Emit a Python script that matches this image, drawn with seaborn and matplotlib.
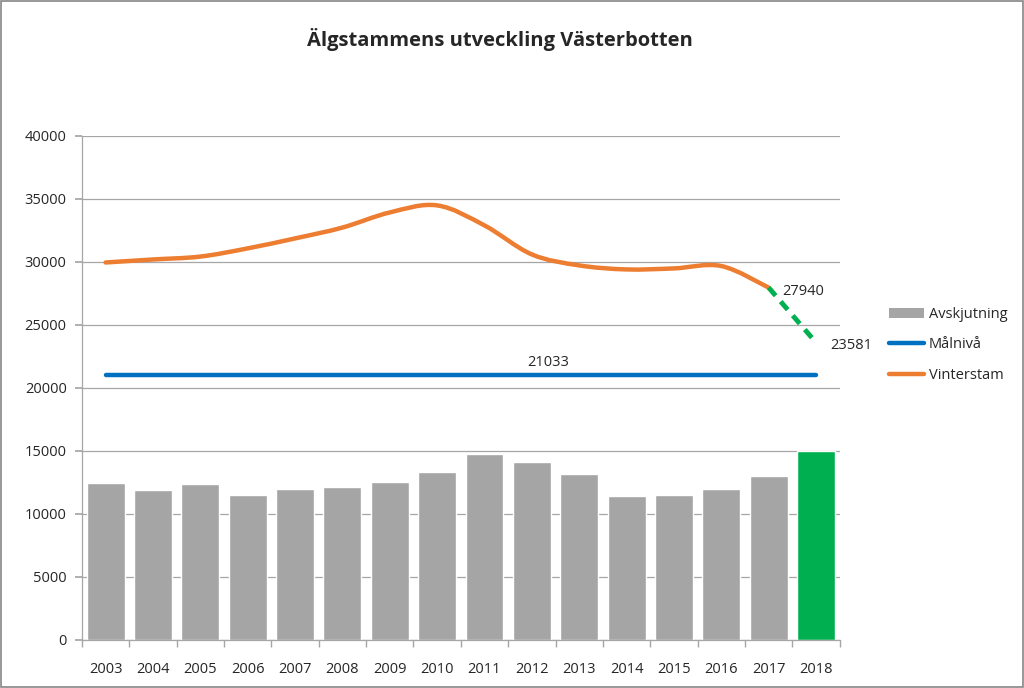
import matplotlib
matplotlib.use("Agg")
import matplotlib.pyplot as plt
import seaborn as sns
import pandas as pd
from matplotlib.path import Path
from matplotlib.patches import PathPatch, Patch, Rectangle
from matplotlib.lines import Line2D

# ── Data ──────────────────────────────────────────────────────────────────────
years = ["2003", "2004", "2005", "2006", "2007", "2008", "2009", "2010",
         "2011", "2012", "2013", "2014", "2015", "2016", "2017", "2018"]
avskjutning = [12430, 11880, 12360, 11480, 11960, 12090, 12490, 13280,
               14740, 14130, 13150, 11380, 11480, 11960, 13020, 15000]
malniva = [21033] * 16
vinterstam = [29930, 30170, 30400, 31050, 31840, 32700, 33900, 34460,
              32870, 30570, 29700, 29380, 29460, 29650, 27940]
prognos = [27940, 23581]  # 2017 -> 2018

GRAY = "#A5A5A5"
GREEN = "#00B050"
BLUE = "#0070C0"
ORANGE = "#ED7D31"
GRID = "#A6A6A6"

sns.set_theme(style="white")
plt.rcParams["font.family"] = ["Open Sans", "DejaVu Sans"]

fig = plt.figure(figsize=(10.24, 6.88), dpi=100)
ax = fig.add_axes([0.080, 0.070, 0.740, 0.733])

df = pd.DataFrame({"year": years, "val": avskjutning})
bar_colors = [GRAY] * 15 + [GREEN]
sns.barplot(data=df, x="year", y="val", hue="year", palette=bar_colors,
            legend=False, width=0.8, saturation=1, ax=ax, zorder=2)

# Målnivå
xs = list(range(len(years)))
ax.plot(xs, malniva, color=BLUE, lw=3.2, solid_capstyle="round", zorder=3)

# Vinterstam — smoothed line (Bezier through data points, like Excel)
pts = list(zip(range(len(vinterstam)), vinterstam))
verts = [pts[0]]
codes = [Path.MOVETO]
for i in range(len(pts) - 1):
    p0 = pts[i - 1] if i > 0 else pts[i]
    p1 = pts[i]
    p2 = pts[i + 1]
    p3 = pts[i + 2] if i + 2 < len(pts) else pts[i + 1]
    c1 = (p1[0] + (p2[0] - p0[0]) / 6, p1[1] + (p2[1] - p0[1]) / 6)
    c2 = (p2[0] - (p3[0] - p1[0]) / 6, p2[1] - (p3[1] - p1[1]) / 6)
    verts += [c1, c2, p2]
    codes += [Path.CURVE4] * 3
ax.add_patch(PathPatch(Path(verts, codes), facecolor="none", edgecolor=ORANGE,
                       lw=3.2, capstyle="round", zorder=4))

# prognos 2018
ax.plot([14, 15], prognos, color=GREEN, lw=3.5, ls=(0, (2.2, 1.6)), zorder=5)

# Data labels
ax.annotate("27940", (14, prognos[0]), xytext=(10, -3), textcoords="offset points",
            ha="left", va="center", fontsize=10.5)
ax.annotate("23581", (15, prognos[1]), xytext=(10, -2), textcoords="offset points",
            ha="left", va="center", fontsize=10.5)
ax.annotate("21033", (9.35, malniva[0]), xytext=(0, 9), textcoords="offset points",
            ha="center", va="center", fontsize=10.5)

# Axes styling
ax.set_xlim(-0.5, 15.5)
ax.set_ylim(0, 40000)
ax.set_yticks(range(0, 40001, 5000))
ax.set_xlabel("")
ax.set_ylabel("")
ax.grid(True, axis="y", color=GRID, lw=0.9, zorder=0)
ax.set_axisbelow(True)
for s in ["top", "right"]:
    ax.spines[s].set_visible(False)
for s in ["left", "bottom"]:
    ax.spines[s].set_color(GRID)
    ax.spines[s].set_linewidth(0.9)
ax.tick_params(axis="y", left=True, length=5, color=GRID, labelsize=10.5,
               pad=6)
ax.tick_params(axis="x", bottom=False, labelsize=10.5, pad=10)
# category boundary ticks
ax.set_xticks([i - 0.5 for i in range(17)], minor=True)
ax.tick_params(axis="x", which="minor", bottom=True, length=5, color=GRID)

fig.text(0.488, 0.942, "Älgstammens utveckling Västerbotten", fontsize=14.5,
         fontweight="bold", ha="center", va="center")

handles = [Patch(facecolor=GRAY, edgecolor="none"),
           Line2D([0], [0], color=BLUE, lw=3.2),
           Line2D([0], [0], color=ORANGE, lw=3.2)]
ax.legend(handles, ["Avskjutning", "Målnivå", "Vinterstam"],
          loc="center left", bbox_to_anchor=(1.048, 0.585), frameon=False,
          fontsize=10.5, handlelength=2.4, handletextpad=0.3,
          labelspacing=1.05)

fig.patches.append(Rectangle((0.001, 0.001), 0.998, 0.998, transform=fig.transFigure,
                             fill=False, edgecolor="#868686", lw=1.2))

fig.savefig("out.png", dpi=100)
